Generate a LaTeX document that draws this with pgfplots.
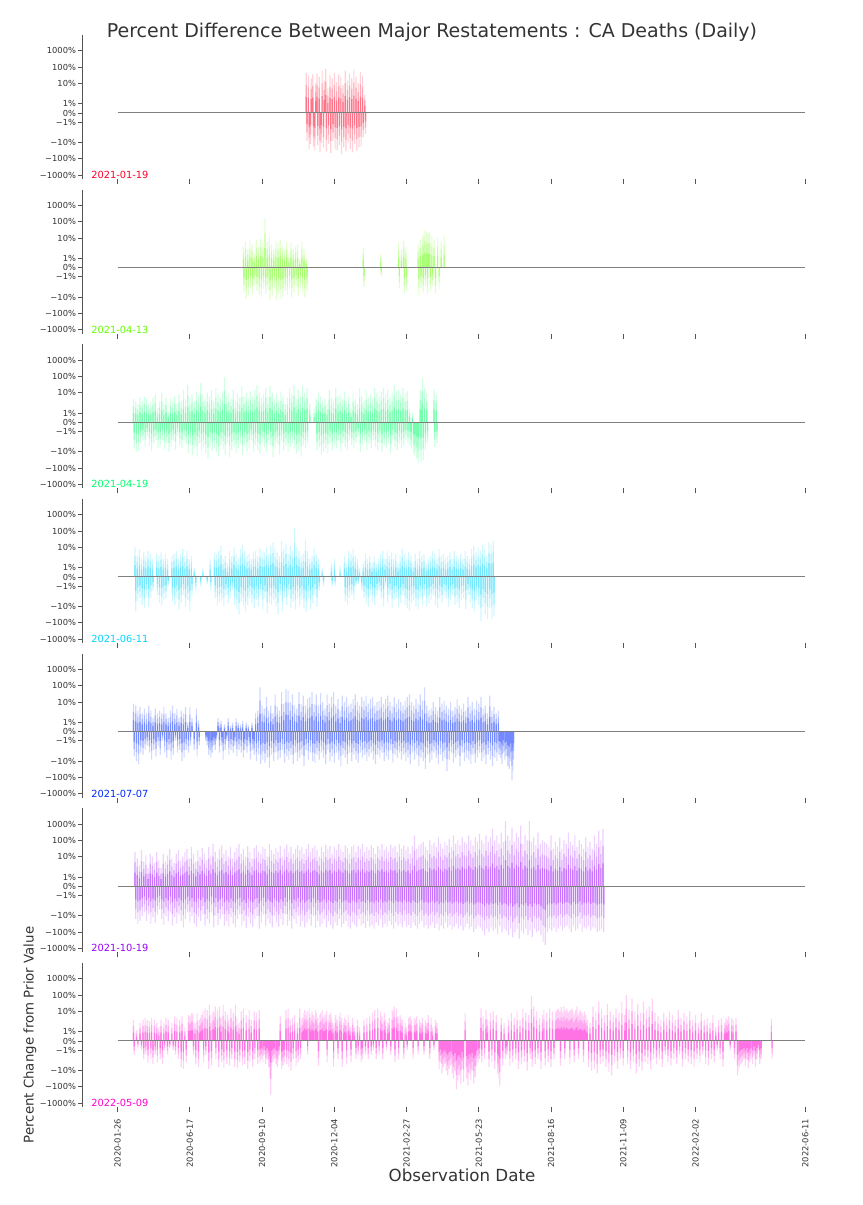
\documentclass[border=0pt]{standalone}
\usepackage{fontspec}
\setmainfont{DejaVu Sans}
\usepackage{pgfplots}
\usepackage{pgfplotstable}
\pgfplotsset{compat=1.18}

\definecolor{cA}{HTML}{FF0029}
\definecolor{cB}{HTML}{61FF00}
\definecolor{cC}{HTML}{00FF68}
\definecolor{cD}{HTML}{00D5FF}
\definecolor{cE}{HTML}{0029FF}
\definecolor{cF}{HTML}{9900FF}
\definecolor{cG}{HTML}{FF00D0}
\definecolor{axgray}{HTML}{555555}
\definecolor{txtgray}{HTML}{333333}
\definecolor{zgray}{HTML}{808080}

\newcommand{\tickfont}{\fontsize{5}{6}\selectfont}
\newcommand{\lblfont}{\fontsize{5.9}{7}\selectfont}

% percent change per observation day (x = day index, v = percent)
\pgfplotstableread[row sep=\\]{
x v\\
261 45\\ 262 -8\\ 264 30\\ 265 -25\\ 267 -12\\ 268 20\\ 270 35\\ 271 -18\\ 273 -30\\ 274 10\\
276 40\\ 277 -15\\ 279 25\\ 280 -40\\ 282 -10\\ 283 60\\ 285 -20\\ 286 15\\ 288 80\\ 289 -35\\
291 5\\ 292 -12\\ 294 30\\ 295 -45\\ 297 20\\ 298 -8\\ 300 45\\ 301 -25\\ 303 12\\ 304 -30\\
306 35\\ 307 -15\\ 309 25\\ 310 -50\\ 312 8\\ 313 -20\\ 315 60\\ 316 -35\\ 318 15\\ 319 -10\\
321 40\\ 322 -25\\ 324 20\\ 325 -40\\ 327 70\\ 328 -12\\ 330 25\\ 331 -30\\ 333 10\\ 334 -20\\
336 50\\ 337 -18\\ 339 30\\ 340 -5\\ 342 2\\ 343 -3\\
}\tA

\pgfplotstableread[row sep=\\]{
x v\\
174 3\\ 175 -5\\ 177 6\\ 178 -12\\ 180 2\\ 181 -8\\ 183 7\\ 184 -3\\ 186 4\\ 187 -6\\
189 1.5\\ 190 -2\\ 192 8\\ 193 -4\\ 195 3\\ 196 -7\\ 198 9\\ 199 -10\\ 201 5\\ 202 -3\\
204 150\\ 205 -6\\ 207 6\\ 208 -4\\ 210 12\\ 211 -14\\ 213 4\\ 214 -8\\ 216 2\\ 217 -3\\
219 7\\ 220 -15\\ 222 5\\ 223 -6\\ 225 8\\ 226 -12\\ 228 3\\ 229 -9\\ 231 2\\ 232 -4\\
234 6\\ 235 -7\\ 237 1.5\\ 238 -3\\ 240 5\\ 241 -10\\ 243 2\\ 244 -5\\ 246 3\\ 247 -2\\
249 4\\ 250 -8\\ 252 1\\ 253 -3\\ 255 6\\ 256 -5\\ 258 2\\ 259 -10\\ 261 1\\ 262 -4\\
340 2.5\\ 341 -2.5\\ 364 1.5\\ 365 -0.9\\
389 5\\ 390 -3\\ 393 2\\ 396 7\\ 397 -6\\ 399 3\\ 400 -4\\
416 4\\ 417 -9\\ 419 8\\ 420 -3\\ 422 12\\ 423 -5\\ 424 20\\ 425 30\\ 426 -2\\ 427 15\\
428 25\\ 429 -6\\ 430 18\\ 431 10\\ 432 22\\ 433 -4\\ 435 12\\ 436 -2\\ 438 8\\ 440 -6\\
443 10\\ 445 -3\\ 448 6\\ 452 15\\
}\tB

\pgfplotstableread[row sep=\\]{
x v\\
22 4\\ 23 -6\\ 25 3\\ 26 -10\\ 28 2\\ 29 -8\\ 31 5\\ 32 -3\\ 34 3\\ 35 -2\\
37 6\\ 38 -5\\ 40 4\\ 41 -1.5\\ 43 2\\ 44 -4\\ 46 3\\ 47 -9\\ 49 5\\ 50 -3\\
52 8\\ 53 -2\\ 55 1.5\\ 56 -6\\ 58 3\\ 59 -4\\ 61 10\\ 62 -2\\ 64 2\\ 65 -7\\
67 5\\ 68 -3\\ 70 1.2\\ 71 -10\\ 73 4\\ 74 -5\\ 76 3\\ 77 -2\\ 79 6\\ 80 -8\\
82 2\\ 83 -1.5\\ 85 8\\ 86 -4\\ 88 3\\ 89 -6\\ 91 15\\ 92 -2\\ 94 4\\ 95 -3\\
97 30\\ 98 -12\\ 100 5\\ 101 -4\\ 103 8\\ 104 -15\\ 106 3\\ 107 -6\\ 109 12\\ 110 -20\\
112 6\\ 113 -3\\ 115 40\\ 116 -8\\ 118 9\\ 119 -5\\ 121 4\\ 122 -12\\ 124 10\\ 125 -25\\
127 6\\ 128 -4\\ 130 15\\ 131 -8\\ 133 3\\ 134 -6\\ 136 20\\ 137 -10\\ 139 8\\ 140 -18\\
142 5\\ 143 -4\\ 145 12\\ 146 -7\\ 148 90\\ 149 -15\\ 151 6\\ 152 -3\\ 154 10\\ 155 -20\\
157 4\\ 158 -8\\ 160 15\\ 161 -5\\ 163 3\\ 164 -12\\ 166 8\\ 167 -6\\ 169 5\\ 170 -3\\
172 25\\ 173 -15\\ 175 6\\ 176 -4\\ 178 10\\ 179 -9\\ 181 4\\ 182 -6\\ 184 12\\ 185 -2\\
187 6\\ 188 -10\\ 190 15\\ 191 -4\\ 193 30\\ 194 -8\\ 196 10\\ 197 -12\\ 199 5\\ 200 -3\\
202 8\\ 203 -5\\ 205 20\\ 206 -10\\ 208 6\\ 209 -2\\ 211 25\\ 212 -4\\ 214 10\\ 215 -20\\
217 4\\ 218 -6\\ 220 8\\ 221 -3\\ 223 3\\ 224 -15\\ 226 12\\ 227 -2\\ 229 6\\ 230 -8\\
232 2\\ 233 -4\\ 235 5\\ 236 -10\\ 238 20\\ 239 -5\\ 241 8\\ 242 -3\\ 244 30\\ 245 -6\\
247 4\\ 248 -12\\ 250 15\\ 251 -8\\ 253 6\\ 254 -20\\ 256 25\\ 257 -4\\ 259 10\\ 260 -6\\
262 20\\ 263 -3\\ 266 2\\ 272 1.5\\ 275 4\\ 276 -8\\ 278 10\\ 279 -5\\ 281 6\\ 282 -15\\
284 3\\ 285 -10\\ 287 4\\ 288 -6\\ 290 2\\ 291 -12\\ 293 15\\ 294 -3\\ 296 5\\ 297 -8\\
299 3\\ 300 -4\\ 302 20\\ 303 -6\\ 305 6\\ 306 -2\\ 308 8\\ 309 -10\\ 311 4\\ 312 -3\\
314 12\\ 315 -5\\ 317 3\\ 318 -8\\ 320 6\\ 321 -2\\ 323 1.5\\ 324 -4\\ 326 10\\ 327 -6\\
329 4\\ 330 -3\\ 332 2\\ 333 -1.5\\ 335 20\\ 336 -10\\ 338 6\\ 339 -4\\ 341 3\\ 342 -2\\
344 15\\ 345 -8\\ 347 5\\ 348 -3\\ 350 8\\ 351 -6\\ 353 4\\ 354 -2\\ 356 20\\ 357 -5\\
359 10\\ 360 -8\\ 362 6\\ 363 -3\\ 365 12\\ 366 -10\\ 368 20\\ 369 -4\\ 371 8\\ 372 -6\\
374 15\\ 375 -3\\ 377 5\\ 378 -12\\ 380 10\\ 381 -2\\ 383 30\\ 384 -5\\ 386 12\\ 387 -8\\
389 15\\ 390 -3\\ 392 8\\ 393 -6\\ 395 20\\ 396 -4\\ 398 10\\ 399 -2\\ 401 12\\ 402 -3\\
404 1.5\\ 405 -4\\ 407 -6\\ 408 1\\ 410 -10\\ 411 -15\\ 413 -8\\ 414 -25\\ 416 -50\\ 417 -20\\
419 15\\ 420 -40\\ 421 12\\ 422 80\\ 423 -30\\ 425 20\\ 426 -8\\ 428 10\\ 429 -3\\ 438 15\\
439 -5\\ 441 8\\ 442 -3\\
}\tC

\pgfplotstableread[row sep=\\]{
x v\\
24 10\\ 25 -20\\ 27 3\\ 28 -5\\ 30 8\\ 31 -3\\ 33 2\\ 34 -8\\ 36 5\\ 37 -12\\
39 3\\ 40 -2\\ 42 6\\ 43 -10\\ 45 4\\ 46 -3\\ 48 2\\ 49 -1.5\\ 54 4\\ 55 -2\\
57 3\\ 58 -6\\ 60 5\\ 61 -8\\ 63 2\\ 64 -4\\ 66 4\\ 67 -3\\ 69 2\\ 70 -1\\
75 3\\ 76 -5\\ 78 4\\ 79 -8\\ 81 6\\ 82 -3\\ 84 2\\ 85 -15\\ 87 4\\ 88 -6\\
90 8\\ 91 -2\\ 93 3\\ 94 -10\\ 96 6\\ 97 -4\\ 99 2\\ 100 -20\\ 102 3\\ 103 -2\\
106 1\\ 108 -1.5\\ 115 -1\\ 118 1\\ 124 -0.8\\ 128 2\\ 129 -1.5\\ 134 5\\ 135 -3\\ 137 4\\
138 -8\\ 140 6\\ 141 -5\\ 143 12\\ 144 -4\\ 146 2\\ 147 -10\\ 149 3\\ 150 -2\\ 152 1.5\\
153 -6\\ 155 6\\ 156 -3\\ 158 3\\ 159 -1.5\\ 161 10\\ 162 -8\\ 164 4\\ 165 -15\\ 167 2\\
168 -30\\ 170 8\\ 171 -5\\ 173 15\\ 174 -10\\ 176 6\\ 177 -20\\ 179 3\\ 180 -8\\ 182 4\\
183 -3\\ 185 2\\ 186 -6\\ 188 5\\ 189 -12\\ 191 6\\ 192 -4\\ 194 3\\ 195 -10\\ 197 8\\
198 -2\\ 200 6\\ 201 -15\\ 203 5\\ 204 -3\\ 206 10\\ 207 -25\\ 209 4\\ 210 -6\\ 212 12\\
213 -8\\ 215 20\\ 216 -4\\ 218 8\\ 219 -10\\ 221 5\\ 222 -30\\ 224 3\\ 225 -2\\ 227 25\\
228 -20\\ 230 8\\ 231 -3\\ 233 15\\ 234 -8\\ 236 4\\ 237 -2\\ 239 12\\ 240 -12\\ 242 6\\
243 -5\\ 245 150\\ 246 -15\\ 248 10\\ 249 -3\\ 251 6\\ 252 -8\\ 254 3\\ 255 -4\\ 257 4\\
258 -12\\ 260 30\\ 261 -20\\ 263 6\\ 264 -3\\ 266 2\\ 267 -15\\ 269 3\\ 270 -6\\ 272 10\\
273 -2\\ 275 4\\ 276 -10\\ 278 2\\ 279 -1.5\\ 283 1\\ 285 -1\\ 296 1.5\\ 297 -1\\ 300 2\\
301 -1\\ 308 1.2\\ 314 3\\ 315 -5\\ 317 1.5\\ 318 -8\\ 320 6\\ 321 -3\\ 323 4\\ 324 -2\\
326 8\\ 327 -4\\ 329 3\\ 330 -1\\ 332 2\\ 333 -0.8\\ 335 1\\ 338 -1.5\\ 340 1.5\\ 341 -3\\
343 4\\ 344 -6\\ 346 2\\ 347 -10\\ 349 3\\ 350 -2\\ 352 1.5\\ 353 -5\\ 355 3\\ 356 -8\\
358 1.5\\ 359 -2\\ 361 2\\ 362 -1.5\\ 364 4\\ 365 -3\\ 367 6\\ 368 -10\\ 370 2\\ 371 -1\\
373 6\\ 374 -6\\ 376 3\\ 377 -2\\ 379 5\\ 380 -12\\ 382 2\\ 383 -4\\ 385 4\\ 386 -3\\
388 1.5\\ 389 -10\\ 391 3\\ 392 -6\\ 394 8\\ 395 -2\\ 397 4\\ 398 -8\\ 400 2\\ 401 -12\\
403 5\\ 404 -18\\ 406 3\\ 407 -6\\ 409 1.5\\ 410 -4\\ 412 4\\ 413 -10\\ 415 2\\ 416 -15\\
418 6\\ 419 -3\\ 421 3\\ 422 -8\\ 424 4\\ 425 -2\\ 427 1.5\\ 428 -10\\ 430 2\\ 431 -6\\
433 3\\ 434 -4\\ 436 6\\ 437 -2\\ 439 4\\ 440 -8\\ 442 2\\ 443 -12\\ 445 8\\ 446 -3\\
448 3\\ 449 -6\\ 451 4\\ 452 -2\\ 454 2\\ 455 -3\\ 457 3\\ 458 -10\\ 460 5\\ 461 -4\\
463 2\\ 464 -2\\ 466 6\\ 467 -8\\ 469 3\\ 470 -6\\ 472 2\\ 473 -12\\ 475 4\\ 476 -4\\
478 2\\ 479 -3\\ 481 6\\ 482 -15\\ 484 3\\ 485 -2\\ 487 2\\ 488 -6\\ 490 8\\ 491 -12\\
493 12\\ 494 -20\\ 496 5\\ 497 -4\\ 499 10\\ 500 -8\\ 502 6\\ 503 -80\\ 505 15\\ 506 -10\\
508 8\\ 509 -30\\ 511 3\\ 512 -60\\ 514 20\\ 515 -12\\ 517 15\\ 518 -60\\ 520 25\\ 521 -40\\
}\tD

\pgfplotstableread[row sep=\\]{
x v\\
22 8\\ 23 -5\\ 25 6\\ 26 -10\\ 28 3\\ 29 -15\\ 31 5\\ 32 -3\\ 34 2\\ 35 -4\\
37 4\\ 38 -2\\ 40 2\\ 41 -1.5\\ 43 6\\ 44 -3\\ 46 3\\ 47 -8\\ 49 1.5\\ 50 -2\\
52 4\\ 53 -5\\ 55 2\\ 56 -1.5\\ 58 3\\ 59 -4\\ 61 2\\ 62 -1\\ 64 5\\ 65 -3\\
67 2\\ 68 -6\\ 70 1.5\\ 71 -2\\ 73 3\\ 74 -8\\ 76 6\\ 77 -4\\ 79 2\\ 80 -1\\
82 4\\ 83 -3\\ 85 1.5\\ 86 -2\\ 88 3\\ 89 -10\\ 91 2\\ 92 -6\\ 94 5\\ 95 -2\\
97 1\\ 98 -3\\ 100 5\\ 101 -1.5\\ 103 1.5\\ 106 -2\\ 109 4\\ 110 -5\\ 112 1.2\\ 113 -1.5\\
122 -1\\ 124 -1.5\\ 126 -4\\ 127 -2\\ 129 -6\\ 131 -3\\ 133 -1.5\\ 135 -2\\ 137 -1\\ 139 1.5\\
140 1\\ 141 -3\\ 143 1.2\\ 144 -1.5\\ 146 -8\\ 148 0.8\\ 149 -2\\ 151 -1\\ 153 1.5\\ 154 -4\\
156 0.6\\ 157 -2\\ 159 1\\ 160 -3\\ 162 -1.5\\ 164 1.5\\ 165 -5\\ 167 1\\ 168 -2\\ 170 0.8\\
171 -3\\ 173 1.2\\ 174 -6\\ 176 -2\\ 178 1\\ 179 -3\\ 181 0.7\\ 182 -1.5\\ 184 -8\\ 186 1\\
187 -2\\ 189 -4\\ 191 2\\ 192 -10\\ 194 3\\ 195 -4\\ 197 80\\ 198 -15\\ 200 6\\ 201 -8\\
203 4\\ 204 -12\\ 206 20\\ 207 -6\\ 209 3\\ 210 -25\\ 212 6\\ 213 -4\\ 215 2\\ 216 -10\\
218 30\\ 219 -3\\ 221 5\\ 222 -8\\ 224 3\\ 225 -6\\ 227 40\\ 228 -2\\ 230 8\\ 231 -12\\
233 60\\ 234 -5\\ 236 50\\ 237 -8\\ 239 10\\ 240 -4\\ 242 30\\ 243 -15\\ 245 6\\ 246 -3\\
248 4\\ 249 -10\\ 251 40\\ 252 -6\\ 254 8\\ 255 -4\\ 257 25\\ 258 -20\\ 260 6\\ 261 -2\\
263 15\\ 264 -8\\ 266 20\\ 267 -3\\ 269 40\\ 270 -10\\ 272 8\\ 273 -12\\ 275 30\\ 276 -4\\
278 6\\ 279 -8\\ 281 35\\ 282 -3\\ 284 10\\ 285 -6\\ 287 4\\ 288 -15\\ 290 30\\ 291 -2\\
293 8\\ 294 -10\\ 296 20\\ 297 -5\\ 299 40\\ 300 -12\\ 302 6\\ 303 -3\\ 305 15\\ 306 -8\\
308 3\\ 309 -20\\ 311 25\\ 312 -4\\ 314 10\\ 315 -6\\ 317 20\\ 318 -15\\ 320 6\\ 321 -3\\
323 8\\ 324 -10\\ 326 15\\ 327 -4\\ 329 30\\ 330 -8\\ 332 10\\ 333 -12\\ 335 6\\ 336 -3\\
338 20\\ 339 -6\\ 341 12\\ 342 -4\\ 344 25\\ 345 -10\\ 347 8\\ 348 -5\\ 350 15\\ 351 -3\\
353 20\\ 354 -8\\ 356 6\\ 357 -15\\ 359 10\\ 360 -4\\ 362 12\\ 363 -6\\ 365 20\\ 366 -3\\
368 8\\ 369 -10\\ 371 15\\ 372 -5\\ 374 25\\ 375 -8\\ 377 10\\ 378 -2\\ 380 6\\ 381 -12\\
383 20\\ 384 -4\\ 386 8\\ 387 -6\\ 389 15\\ 390 -3\\ 392 10\\ 393 -8\\ 395 6\\ 396 -4\\
398 12\\ 399 -10\\ 401 20\\ 402 -6\\ 404 30\\ 405 -15\\ 407 10\\ 408 -3\\ 410 6\\ 411 -8\\
413 15\\ 414 -4\\ 416 8\\ 417 -20\\ 419 30\\ 420 -6\\ 422 12\\ 423 -10\\ 425 80\\ 426 -30\\
428 6\\ 429 -4\\ 431 3\\ 432 -12\\ 434 4\\ 435 -8\\ 437 10\\ 438 -3\\ 440 5\\ 441 -6\\
443 3\\ 444 -15\\ 446 20\\ 447 -4\\ 449 8\\ 450 -10\\ 452 12\\ 453 -6\\ 455 6\\ 456 -40\\
458 4\\ 459 -8\\ 461 10\\ 462 -3\\ 464 3\\ 465 -12\\ 467 5\\ 468 -6\\ 470 15\\ 471 -4\\
473 6\\ 474 -20\\ 476 4\\ 477 -3\\ 479 8\\ 480 -10\\ 482 3\\ 483 -6\\ 485 20\\ 486 -8\\
488 6\\ 489 -15\\ 491 10\\ 492 -4\\ 494 4\\ 495 -12\\ 497 12\\ 498 -6\\ 500 8\\ 501 -3\\
503 20\\ 504 -10\\ 506 4\\ 507 -6\\ 509 6\\ 510 -15\\ 512 2\\ 513 -4\\ 515 25\\ 516 -8\\
518 3\\ 519 -20\\ 521 5\\ 522 -6\\ 524 2\\ 525 -10\\ 527 3\\ 528 -4\\ 530 -6\\ 532 -15\\
534 -3\\ 536 -8\\ 538 -5\\ 540 -20\\ 542 -30\\ 544 -10\\ 546 -150\\ 547 -40\\ 548 -8\\
}\tE

\pgfplotstableread[row sep=\\]{
x v\\
24 20\\ 25 -15\\ 27 8\\ 28 -30\\ 30 3\\ 31 -20\\ 33 25\\ 34 -10\\ 36 5\\ 37 -6\\
39 12\\ 40 -20\\ 42 2\\ 43 -8\\ 45 15\\ 46 -30\\ 48 10\\ 49 -12\\ 51 4\\ 52 -25\\
54 20\\ 55 -8\\ 57 6\\ 58 -4\\ 60 2\\ 61 -15\\ 63 15\\ 64 -35\\ 66 5\\ 67 -10\\
69 12\\ 70 -20\\ 72 30\\ 73 -6\\ 75 8\\ 76 -40\\ 78 4\\ 79 -12\\ 81 15\\ 82 -30\\
84 25\\ 85 -8\\ 87 6\\ 88 -20\\ 90 10\\ 91 -50\\ 93 20\\ 94 -15\\ 96 30\\ 97 -6\\
99 8\\ 100 -25\\ 102 40\\ 103 -10\\ 105 15\\ 106 -30\\ 108 5\\ 109 -45\\ 111 25\\ 112 -12\\
114 10\\ 115 -20\\ 117 35\\ 118 -8\\ 120 15\\ 121 -40\\ 123 6\\ 124 -15\\ 126 40\\ 127 -30\\
129 12\\ 130 -6\\ 132 60\\ 133 -50\\ 135 20\\ 136 -10\\ 138 8\\ 139 -35\\ 141 30\\ 142 -15\\
144 50\\ 145 -8\\ 147 15\\ 148 -40\\ 150 25\\ 151 -20\\ 153 10\\ 154 -45\\ 156 40\\ 157 -12\\
159 8\\ 160 -30\\ 162 20\\ 163 -50\\ 165 35\\ 166 -15\\ 168 60\\ 169 -8\\ 171 15\\ 172 -40\\
174 30\\ 175 -20\\ 177 10\\ 178 -55\\ 180 45\\ 181 -12\\ 183 20\\ 184 -30\\ 186 8\\ 187 -45\\
189 35\\ 190 -15\\ 192 50\\ 193 -10\\ 195 20\\ 196 -60\\ 198 15\\ 199 -25\\ 201 40\\ 202 -8\\
204 30\\ 205 -40\\ 207 10\\ 208 -15\\ 210 60\\ 211 -30\\ 213 25\\ 214 -50\\ 216 15\\ 217 -10\\
219 35\\ 220 -25\\ 222 20\\ 223 -45\\ 225 45\\ 226 -15\\ 228 10\\ 229 -35\\ 231 30\\ 232 -8\\
234 55\\ 235 -40\\ 237 20\\ 238 -20\\ 240 40\\ 241 -60\\ 243 15\\ 244 -15\\ 246 30\\ 247 -30\\
249 50\\ 250 -10\\ 252 25\\ 253 -45\\ 255 40\\ 256 -20\\ 258 15\\ 259 -50\\ 261 30\\ 262 -25\\
264 60\\ 265 -15\\ 267 20\\ 268 -40\\ 270 35\\ 271 -10\\ 273 50\\ 274 -55\\ 276 25\\ 277 -20\\
279 10\\ 280 -45\\ 282 40\\ 283 -30\\ 285 20\\ 286 -15\\ 288 55\\ 289 -50\\ 291 30\\ 292 -20\\
294 45\\ 295 -35\\ 297 15\\ 298 -60\\ 300 40\\ 301 -25\\ 303 25\\ 304 -40\\ 306 60\\ 307 -15\\
309 30\\ 310 -50\\ 312 20\\ 313 -30\\ 315 50\\ 316 -20\\ 318 35\\ 319 -45\\ 321 15\\ 322 -60\\
324 40\\ 325 -25\\ 327 55\\ 328 -35\\ 330 20\\ 331 -50\\ 333 45\\ 334 -15\\ 336 30\\ 337 -40\\
339 60\\ 340 -30\\ 342 20\\ 343 -55\\ 345 40\\ 346 -20\\ 348 25\\ 349 -45\\ 351 50\\ 352 -35\\
354 35\\ 355 -60\\ 357 15\\ 358 -25\\ 360 45\\ 361 -40\\ 363 30\\ 364 -15\\ 366 60\\ 367 -50\\
369 25\\ 370 -30\\ 372 40\\ 373 -45\\ 375 20\\ 376 -20\\ 378 55\\ 379 -35\\ 381 35\\ 382 -60\\
384 45\\ 385 -25\\ 387 20\\ 388 -40\\ 390 60\\ 391 -30\\ 393 30\\ 394 -50\\ 396 50\\ 397 -20\\
399 25\\ 400 -45\\ 402 40\\ 403 -35\\ 405 15\\ 406 -55\\ 408 45\\ 409 -25\\ 411 200\\ 412 -40\\
414 30\\ 415 -60\\ 417 50\\ 418 -30\\ 420 60\\ 421 -20\\ 423 80\\ 424 -50\\ 426 40\\ 427 -35\\
429 25\\ 430 -60\\ 432 100\\ 433 -40\\ 435 50\\ 436 -25\\ 438 70\\ 439 -55\\ 441 40\\ 442 -30\\
444 150\\ 445 -80\\ 447 60\\ 448 -40\\ 450 30\\ 451 -60\\ 453 80\\ 454 -25\\ 456 50\\ 457 -50\\
459 120\\ 460 -35\\ 462 40\\ 463 -70\\ 465 200\\ 466 -45\\ 468 60\\ 469 -30\\ 471 100\\ 472 -60\\
474 50\\ 475 -40\\ 477 150\\ 478 -80\\ 480 80\\ 481 -50\\ 483 60\\ 484 -30\\ 486 200\\ 487 -60\\
489 100\\ 490 -45\\ 492 50\\ 493 -100\\ 495 150\\ 496 -60\\ 498 80\\ 499 -40\\ 501 250\\ 502 -50\\
504 100\\ 505 -80\\ 507 60\\ 508 -150\\ 510 200\\ 511 -60\\ 513 80\\ 514 -100\\ 516 150\\ 517 -50\\
519 500\\ 520 -80\\ 522 100\\ 523 -60\\ 525 200\\ 526 -120\\ 528 60\\ 529 -40\\ 531 300\\ 532 -100\\
534 80\\ 535 -60\\ 537 1500\\ 538 -80\\ 540 200\\ 541 -150\\ 543 100\\ 544 -60\\ 546 600\\ 547 -200\\
549 80\\ 550 -100\\ 552 300\\ 553 -60\\ 555 150\\ 556 -250\\ 558 800\\ 559 -80\\ 561 60\\ 562 -120\\
564 200\\ 565 -60\\ 567 100\\ 568 -150\\ 570 1500\\ 571 -80\\ 573 80\\ 574 -200\\ 576 150\\ 577 -60\\
579 50\\ 580 -100\\ 582 300\\ 583 -80\\ 585 60\\ 586 -150\\ 588 100\\ 589 -400\\ 591 80\\ 592 -600\\
594 60\\ 595 -100\\ 597 40\\ 598 -60\\ 600 200\\ 601 -80\\ 603 30\\ 604 -50\\ 606 80\\ 607 -100\\
609 40\\ 610 -60\\ 612 150\\ 613 -40\\ 615 30\\ 616 -80\\ 618 100\\ 619 -50\\ 621 60\\ 622 -40\\
624 300\\ 625 -60\\ 627 80\\ 628 -100\\ 630 50\\ 631 -40\\ 633 200\\ 634 -80\\ 636 40\\ 637 -60\\
639 100\\ 640 -30\\ 642 60\\ 643 -100\\ 645 30\\ 646 -50\\ 648 150\\ 649 -60\\ 651 40\\ 652 -40\\
654 80\\ 655 -80\\ 657 30\\ 658 -50\\ 660 200\\ 661 -60\\ 663 60\\ 664 -100\\ 666 400\\ 667 -80\\
669 100\\ 670 -60\\ 672 500\\ 673 -100\\
}\tF

\pgfplotstableread[row sep=\\]{
x v\\
22 3\\ 23 -1.5\\ 26 1.2\\ 28 -0.8\\ 31 2\\ 33 -1\\ 35 3\\ 36 -2\\ 38 4\\ 39 -1.5\\
41 3\\ 42 -3\\ 44 2.5\\ 46 -2\\ 47 4\\ 49 -4\\ 51 3\\ 52 -1.5\\ 54 2\\ 55 -3\\
57 1.5\\ 59 -2\\ 60 3\\ 62 -4\\ 64 2\\ 65 -1\\ 67 4\\ 69 -1.5\\ 70 3\\ 72 -0.8\\
75 2\\ 77 -1\\ 79 5\\ 80 -1.5\\ 82 4\\ 84 -2\\ 86 3\\ 88 -6\\ 89 5\\ 91 -8\\
93 1.5\\ 95 -3\\ 98 6\\ 99 3\\ 100 5\\ 101 4\\ 102 7\\ 103 8\\ 104 6\\ 105 -1.5\\
107 2\\ 108 -4\\ 110 8\\ 112 -6\\ 113 3\\ 115 4\\ 116 6\\ 118 10\\ 119 -3\\ 121 15\\
122 -1.5\\ 124 12\\ 126 -8\\ 127 25\\ 129 6\\ 130 -5\\ 132 10\\ 133 8\\ 135 20\\ 136 -2\\
138 12\\ 140 -6\\ 141 20\\ 143 4\\ 144 -3\\ 146 25\\ 147 -7\\ 149 10\\ 151 -4\\ 152 6\\
154 3\\ 155 -5\\ 157 15\\ 158 -2\\ 160 8\\ 162 -6\\ 163 25\\ 165 4\\ 166 -7\\ 168 2\\
169 -3\\ 171 10\\ 173 -5\\ 174 15\\ 176 -4\\ 178 6\\ 180 -8\\ 182 12\\ 183 -3\\ 185 3\\
187 -6\\ 189 10\\ 190 -2\\ 192 8\\ 194 -4\\ 196 12\\ 197 -3\\ 199 -2\\ 201 -3\\ 203 -1.5\\
205 -4\\ 207 -2\\ 209 -6\\ 211 -30\\ 212 -300\\ 213 -5\\ 215 -3\\ 217 -2\\ 219 -4\\ 221 -6\\
222 -3\\ 224 -1.5\\ 225 5\\ 227 -8\\ 229 -5\\ 231 -3\\ 233 12\\ 234 -4\\ 236 15\\ 237 -6\\
239 3\\ 240 -10\\ 242 4\\ 243 -2\\ 245 6\\ 247 -5\\ 249 2\\ 250 -3\\ 252 15\\ 253 -2\\
255 3\\ 256 4\\ 258 8\\ 259 12\\ 260 6\\ 262 10\\ 263 -1.5\\ 265 15\\ 266 7\\ 268 4\\
269 10\\ 271 6\\ 272 5\\ 274 12\\ 275 8\\ 277 4\\ 278 -5\\ 280 6\\ 281 8\\ 283 12\\
284 5\\ 286 4\\ 287 6\\ 289 10\\ 290 -3\\ 292 3\\ 293 6\\ 295 8\\ 296 4\\ 298 2\\
299 -6\\ 301 4\\ 302 6\\ 304 3\\ 305 -2\\ 307 5\\ 308 8\\ 310 4\\ 311 -6\\ 313 2\\
314 4\\ 316 3\\ 317 -4\\ 319 6\\ 320 2\\ 322 1.5\\ 323 -3\\ 325 4\\ 326 2\\ 328 1.5\\
330 -2\\ 332 3\\ 333 -1.5\\ 335 1.5\\ 337 -3\\ 339 -2\\ 341 3\\ 343 -1.5\\ 345 4\\ 347 -2\\
349 5\\ 351 -1.5\\ 353 8\\ 354 -1\\ 356 12\\ 358 -2\\ 360 15\\ 362 -1.5\\ 364 10\\ 366 5\\
367 -2\\ 369 8\\ 371 3\\ 372 -1\\ 374 2\\ 376 4\\ 378 -1.5\\ 380 12\\ 381 10\\ 383 20\\
384 -3\\ 386 15\\ 388 5\\ 389 -2\\ 391 6\\ 392 4\\ 394 3\\ 396 -2\\ 398 2\\ 400 1.5\\
401 -1\\ 403 4\\ 405 5\\ 407 3\\ 409 -2\\ 411 4\\ 412 3\\ 414 5\\ 416 -1.5\\ 418 3\\
420 2\\ 422 4\\ 424 -1.5\\ 426 3\\ 428 2\\ 430 6\\ 432 -2\\ 434 4\\ 436 1.5\\ 438 -1\\
440 3\\ 442 2\\ 445 -8\\ 447 -3\\ 449 -15\\ 451 -6\\ 453 -4\\ 455 -10\\ 457 -20\\ 459 -8\\
461 -5\\ 463 -15\\ 465 -30\\ 467 -10\\ 469 -140\\ 471 -40\\ 473 -20\\ 475 -60\\ 477 -8\\ 479 -50\\
481 8\\ 483 -30\\ 485 -80\\ 487 -15\\ 489 -40\\ 491 -10\\ 493 -60\\ 495 -25\\ 497 -5\\ 499 -3\\
501 -2\\ 503 15\\ 504 -3\\ 506 5\\ 508 -2\\ 510 12\\ 512 3\\ 514 -6\\ 516 8\\ 518 -3\\
520 10\\ 522 -8\\ 524 6\\ 526 -15\\ 528 -30\\ 529 -80\\ 531 4\\ 533 -5\\ 535 2\\ 537 -2\\
539 -1.5\\ 541 3\\ 543 -5\\ 545 8\\ 547 -3\\ 549 4\\ 551 -2\\ 553 10\\ 555 -8\\ 557 3\\
559 -4\\ 561 15\\ 563 -3\\ 565 8\\ 567 -10\\ 569 6\\ 571 -2\\ 573 90\\ 574 -6\\ 576 20\\
578 -4\\ 580 10\\ 582 -2\\ 584 4\\ 586 -8\\ 588 6\\ 590 12\\ 592 -5\\ 594 8\\ 596 -3\\
598 15\\ 600 -6\\ 602 10\\ 604 -2\\ 606 8\\ 607 10\\ 608 12\\ 609 6\\ 610 15\\ 611 8\\
612 10\\ 613 -5\\ 614 18\\ 615 12\\ 616 8\\ 617 6\\ 618 20\\ 619 -2\\ 620 10\\ 621 12\\
622 15\\ 623 8\\ 624 6\\ 625 10\\ 626 -4\\ 627 12\\ 628 8\\ 629 15\\ 630 10\\ 631 6\\
632 -3\\ 633 8\\ 634 12\\ 635 10\\ 636 20\\ 637 6\\ 638 -2\\ 639 8\\ 640 12\\ 641 10\\
642 6\\ 643 8\\ 644 5\\ 645 -3\\ 646 10\\ 647 4\\ 648 6\\ 650 3\\ 652 -6\\ 654 2\\
656 -10\\ 658 20\\ 660 -8\\ 662 10\\ 664 -15\\ 666 40\\ 668 -4\\ 670 15\\ 672 -3\\ 674 6\\
676 -6\\ 678 30\\ 680 -12\\ 682 10\\ 684 -20\\ 686 6\\ 688 -3\\ 690 15\\ 692 -8\\ 694 8\\
696 -2\\ 698 40\\ 700 -5\\ 702 6\\ 704 100\\ 706 -4\\ 708 12\\ 710 -8\\ 712 60\\ 714 -3\\
716 10\\ 718 -15\\ 720 30\\ 722 -6\\ 724 8\\ 726 -10\\ 728 40\\ 730 -3\\ 732 12\\ 734 -4\\
736 20\\ 738 -8\\ 740 60\\ 742 -2\\ 744 8\\ 746 -4\\ 748 5\\ 750 -2\\ 752 3\\ 754 -6\\
756 8\\ 758 -1.5\\ 760 4\\ 762 -3\\ 764 10\\ 766 -5\\ 768 6\\ 770 -2\\ 772 3\\ 774 -4\\
776 12\\ 778 -1.5\\ 780 4\\ 782 -6\\ 784 8\\ 786 -2\\ 788 5\\ 790 -3\\ 792 10\\ 794 -4\\
796 3\\ 798 -6\\ 800 6\\ 802 -2\\ 804 2\\ 806 -3\\ 808 8\\ 810 -1.5\\ 812 3\\ 814 -4\\
816 4\\ 818 -5\\ 820 2\\ 822 -2\\ 824 6\\ 826 -3\\ 828 1.5\\ 830 -1\\ 832 3\\ 834 -2\\
836 4\\ 838 -6\\ 840 2\\ 842 4\\ 844 3\\ 846 5\\ 848 -1\\ 850 4\\ 852 3\\ 854 -2\\
856 4\\ 858 -20\\ 859 -10\\ 861 -6\\ 863 -4\\ 865 -3\\ 867 -2\\ 869 -5\\ 871 -2\\ 873 -7\\
875 -3\\ 877 -2\\ 879 -4\\ 881 -1.5\\ 883 -6\\ 885 -2\\ 887 -1\\ 889 -4\\ 891 -2\\ 905 3.5\\
906 -2\\
}\tG

\pgfplotsset{
  panel/.style={
    scale only axis, width=454.2pt, height=86.4pt, anchor=north west,
    xmin=-48, xmax=1000, ymin=-4.04, ymax=4.77,
    axis x line*=bottom, axis y line*=left,
    x axis line style={draw=none},
    y axis line style={draw=axgray, line width=0.6pt, -},
    tick align=outside, major tick length=3pt,
    tick style={draw=axgray, line width=0.5pt},
    xtick={0,100,200,300,400,500,600,700,800,952}, xticklabels={},
    ytick={-3.8101,-2.8101,-1.8101,-0.5556,0,0.5556,1.8101,2.8101,3.8101},
    yticklabels={−1000\%,−100\%,−10\%,−1\%,0\%,1\%,10\%,100\%,1000\%},
    yticklabel style={font=\tickfont, text=txtgray, inner sep=1pt},
    xticklabel style={font=\tickfont, text=txtgray, rotate=90, anchor=east, inner sep=1pt},
    xticklabel shift=3pt,
  },
  bar/.style={ybar, bar width=0.7pt, bar shift=0pt, draw=none},
}

% symlog positions: linthresh 2%, one unit per decade
% #1 = top edge of the panel in pt (negative, downwards)
\newcommand{\panelplot}[4]{%
  \begin{axis}[panel, at={(49.8pt,#1)}, #4]
    \addplot[bar, fill=#2!18!white] table[x=x, y expr={slog(\thisrow{v})}] {#3};
    \addplot[bar, fill=#2!34!white] table[x=x, y expr={0.7*slog(\thisrow{v})}] {#3};
    \addplot[bar, fill=#2!55!white] table[x=x, y expr={0.4*slog(\thisrow{v})}] {#3};
    \addplot[zgray, line width=0.6pt] coordinates {(0,0) (952,0)};
  \end{axis}}

\begin{document}
\begin{tikzpicture}[x=0.6pt, y=-0.6pt,
  declare function={slog(\v)=ifthenelse(abs(\v)<=2, \v*0.5556, (\v/abs(\v))*(1.1111+ln(abs(\v)/2)*0.4342945));}]
\path[use as bounding box] (0,0) rectangle (863,1205);

\node[font=\fontsize{11.4}{13}\selectfont, text=txtgray] at (432,32) {Percent Difference Between Major Restatements : CA Deaths (Daily)};

\panelplot{-21pt}{cA}{\tA}{}
\node[anchor=west, text=cA, font=\lblfont, inner sep=0pt] at (91,175) {2021-01-19};
\panelplot{-113.8pt}{cB}{\tB}{}
\node[anchor=west, text=cB, font=\lblfont, inner sep=0pt] at (91,329.67) {2021-04-13};
\panelplot{-206.6pt}{cC}{\tC}{}
\node[anchor=west, text=cC, font=\lblfont, inner sep=0pt] at (91,484.33) {2021-04-19};
\panelplot{-299.4pt}{cD}{\tD}{}
\node[anchor=west, text=cD, font=\lblfont, inner sep=0pt] at (91,639) {2021-06-11};
\panelplot{-392.2pt}{cE}{\tE}{}
\node[anchor=west, text=cE, font=\lblfont, inner sep=0pt] at (91,793.67) {2021-07-07};
\panelplot{-485pt}{cF}{\tF}{}
\node[anchor=west, text=cF, font=\lblfont, inner sep=0pt] at (91,948.33) {2021-10-19};
\panelplot{-577.8pt}{cG}{\tG}{xticklabels={2020-01-26,2020-06-17,2020-09-10,2020-12-04,2021-02-27,2021-05-23,2021-08-16,2021-11-09,2022-02-02,2022-06-11}}
\node[anchor=west, text=cG, font=\lblfont, inner sep=0pt] at (91,1103) {2022-05-09};

\node[font=\fontsize{10}{12}\selectfont, text=txtgray] at (462,1175) {Observation Date};
\node[font=\fontsize{8}{10}\selectfont, text=txtgray, rotate=90] at (30,1035) {Percent Change from Prior Value};
\end{tikzpicture}
\end{document}
